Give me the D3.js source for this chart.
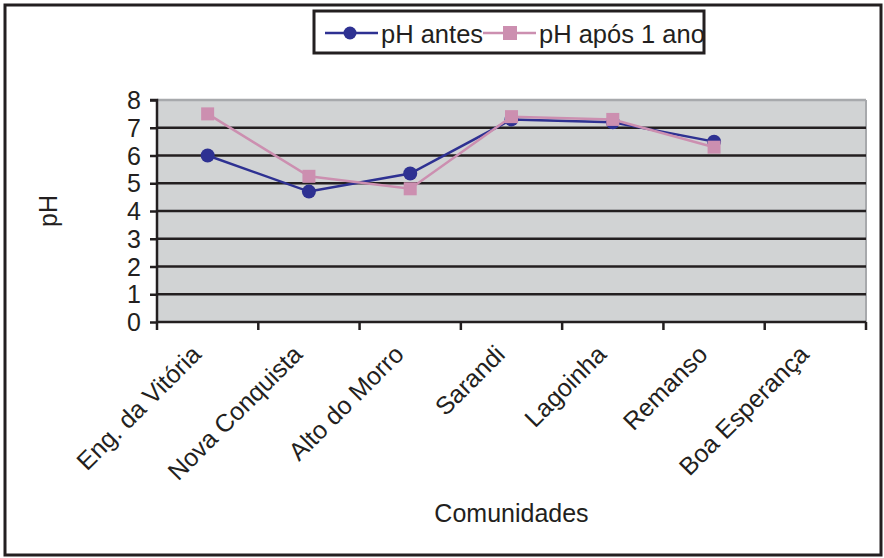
<!DOCTYPE html>
<html><head><meta charset="utf-8">
<script src="https://cdn.jsdelivr.net/npm/d3@7"></script>
<style>body{margin:0;background:#fff;font-family:"Liberation Sans",Arial,sans-serif}</style>
</head><body><svg id="c" width="884" height="558"></svg>
<script>
const categories = ["Eng. da Vitória","Nova Conquista","Alto do Morro","Sarandi","Lagoinha","Remanso","Boa Esperança"];
const phAntes = [6.0, 4.7, 5.35, 7.3, 7.2, 6.5, null];
const phApos = [7.5, 5.25, 4.8, 7.4, 7.3, 6.3, null];
const yTicks = [0,1,2,3,4,5,6,7,8];
const seriesNames = ["pH antes","pH após 1 ano"];

const svg = d3.select("#c");
const font = "Liberation Sans, Arial, sans-serif";
const fs = 25;
const blue = "#2e3192", pink = "#cc8fb0", ink = "#231f20";
const L=157, R=866, T=100, B=322;

svg.append("rect").attr("x",5).attr("y",5).attr("width",876).attr("height",550)
  .attr("fill","#fff").attr("stroke",ink).attr("stroke-width",3);

const x = d3.scaleBand().domain(categories).range([L,R]).padding(0);
const y = d3.scaleLinear().domain([0,8]).range([B,T]);

svg.append("rect").attr("x",L).attr("y",T).attr("width",R-L).attr("height",B-T).attr("fill","#d1d3d4");
svg.append("line").attr("x1",L).attr("x2",R).attr("y1",T).attr("y2",T).attr("stroke","#a7a9ac").attr("stroke-width",2.5);
svg.append("line").attr("x1",R).attr("x2",R).attr("y1",T).attr("y2",B).attr("stroke","#a7a9ac").attr("stroke-width",2);

svg.append("g").selectAll("line").data(yTicks.filter(d=>d>0&&d<8)).join("line")
  .attr("x1",L).attr("x2",R).attr("y1",d=>y(d)).attr("y2",d=>y(d))
  .attr("stroke",ink).attr("stroke-width",2.5);

const yAxis = svg.append("g").attr("transform",`translate(${L},0)`)
  .call(d3.axisLeft(y).tickValues(yTicks).tickSize(7).tickPadding(9).tickFormat(d3.format("d")));
yAxis.select(".domain").attr("stroke",ink).attr("stroke-width",2.5).attr("d",`M-7,${T}H0V${B}`);
yAxis.selectAll(".tick line").attr("stroke",ink).attr("stroke-width",2.5);
yAxis.selectAll("text").attr("font-family",font).attr("font-size",fs).attr("fill",ink).attr("dy","0.34em");

const xAxis = svg.append("g").attr("transform",`translate(0,${B})`)
  .call(d3.axisBottom(x).tickSize(0).tickFormat(""));
xAxis.select(".domain").attr("stroke",ink).attr("stroke-width",2.5).attr("d",`M${L},0H${R}`);
const edges = categories.map(c=>x(c)).concat([R]);
svg.append("g").selectAll("line").data(edges).join("line")
  .attr("x1",d=>d).attr("x2",d=>d).attr("y1",B).attr("y2",B+8)
  .attr("stroke",ink).attr("stroke-width",2.5);

svg.append("g").selectAll("text").data(categories).join("text")
  .attr("transform",d=>`translate(${x(d)+x.bandwidth()/2-5},${B+34}) rotate(-45)`)
  .attr("text-anchor","end").attr("font-family",font).attr("font-size",fs).attr("fill",ink)
  .text(d=>d);

svg.append("text").attr("transform",`translate(57,${(T+B)/2}) rotate(-90)`)
  .attr("text-anchor","middle").attr("font-family",font).attr("font-size",fs).attr("fill",ink).text("pH");
svg.append("text").attr("x",(L+R)/2).attr("y",522).attr("text-anchor","middle")
  .attr("font-family",font).attr("font-size",fs).attr("fill",ink).text("Comunidades");

const cx = d => x(categories[d.i]) + x.bandwidth()/2;
function series(vals, color, shape){
  const pts = vals.map((v,i)=>({v,i})).filter(d=>d.v!=null);
  svg.append("path").datum(pts)
    .attr("d", d3.line().x(cx).y(d=>y(d.v)))
    .attr("fill","none").attr("stroke",color).attr("stroke-width",2.5);
  if(shape==="circle"){
    svg.append("g").selectAll("circle").data(pts).join("circle")
      .attr("cx",cx).attr("cy",d=>y(d.v)).attr("r",7).attr("fill",color);
  } else {
    svg.append("g").selectAll("rect").data(pts).join("rect")
      .attr("x",d=>cx(d)-6.5).attr("y",d=>y(d.v)-6.5).attr("width",13).attr("height",13).attr("fill",color);
  }
}
series(phAntes, blue, "circle");
series(phApos, pink, "square");

// legend
const lg = svg.append("g");
svg.append("clipPath").attr("id","lgclip").append("rect").attr("x",314).attr("y",11).attr("width",389).attr("height",42);
lg.append("rect").attr("x",314).attr("y",11).attr("width",390).attr("height",42).attr("fill","#fff");
const lgc = lg.append("g").attr("clip-path","url(#lgclip)");
const ly = 33;
lgc.append("line").attr("x1",325).attr("x2",378).attr("y1",ly).attr("y2",ly).attr("stroke",blue).attr("stroke-width",2.5);
lgc.append("circle").attr("cx",350).attr("cy",ly).attr("r",6.5).attr("fill",blue);
lgc.append("text").attr("x",381).attr("y",43).attr("font-family",font).attr("font-size",25.5).attr("fill",ink).text(seriesNames[0]);
lgc.append("line").attr("x1",483).attr("x2",536).attr("y1",ly).attr("y2",ly).attr("stroke",pink).attr("stroke-width",2.5);
lgc.append("rect").attr("x",503).attr("y",ly-7).attr("width",14).attr("height",14).attr("fill",pink);
lgc.append("text").attr("x",539).attr("y",43).attr("font-family",font).attr("font-size",25.5).attr("fill",ink).text(seriesNames[1]);
lg.append("rect").attr("x",314).attr("y",11).attr("width",390).attr("height",42).attr("fill","none").attr("stroke",ink).attr("stroke-width",3);
</script></body></html>
